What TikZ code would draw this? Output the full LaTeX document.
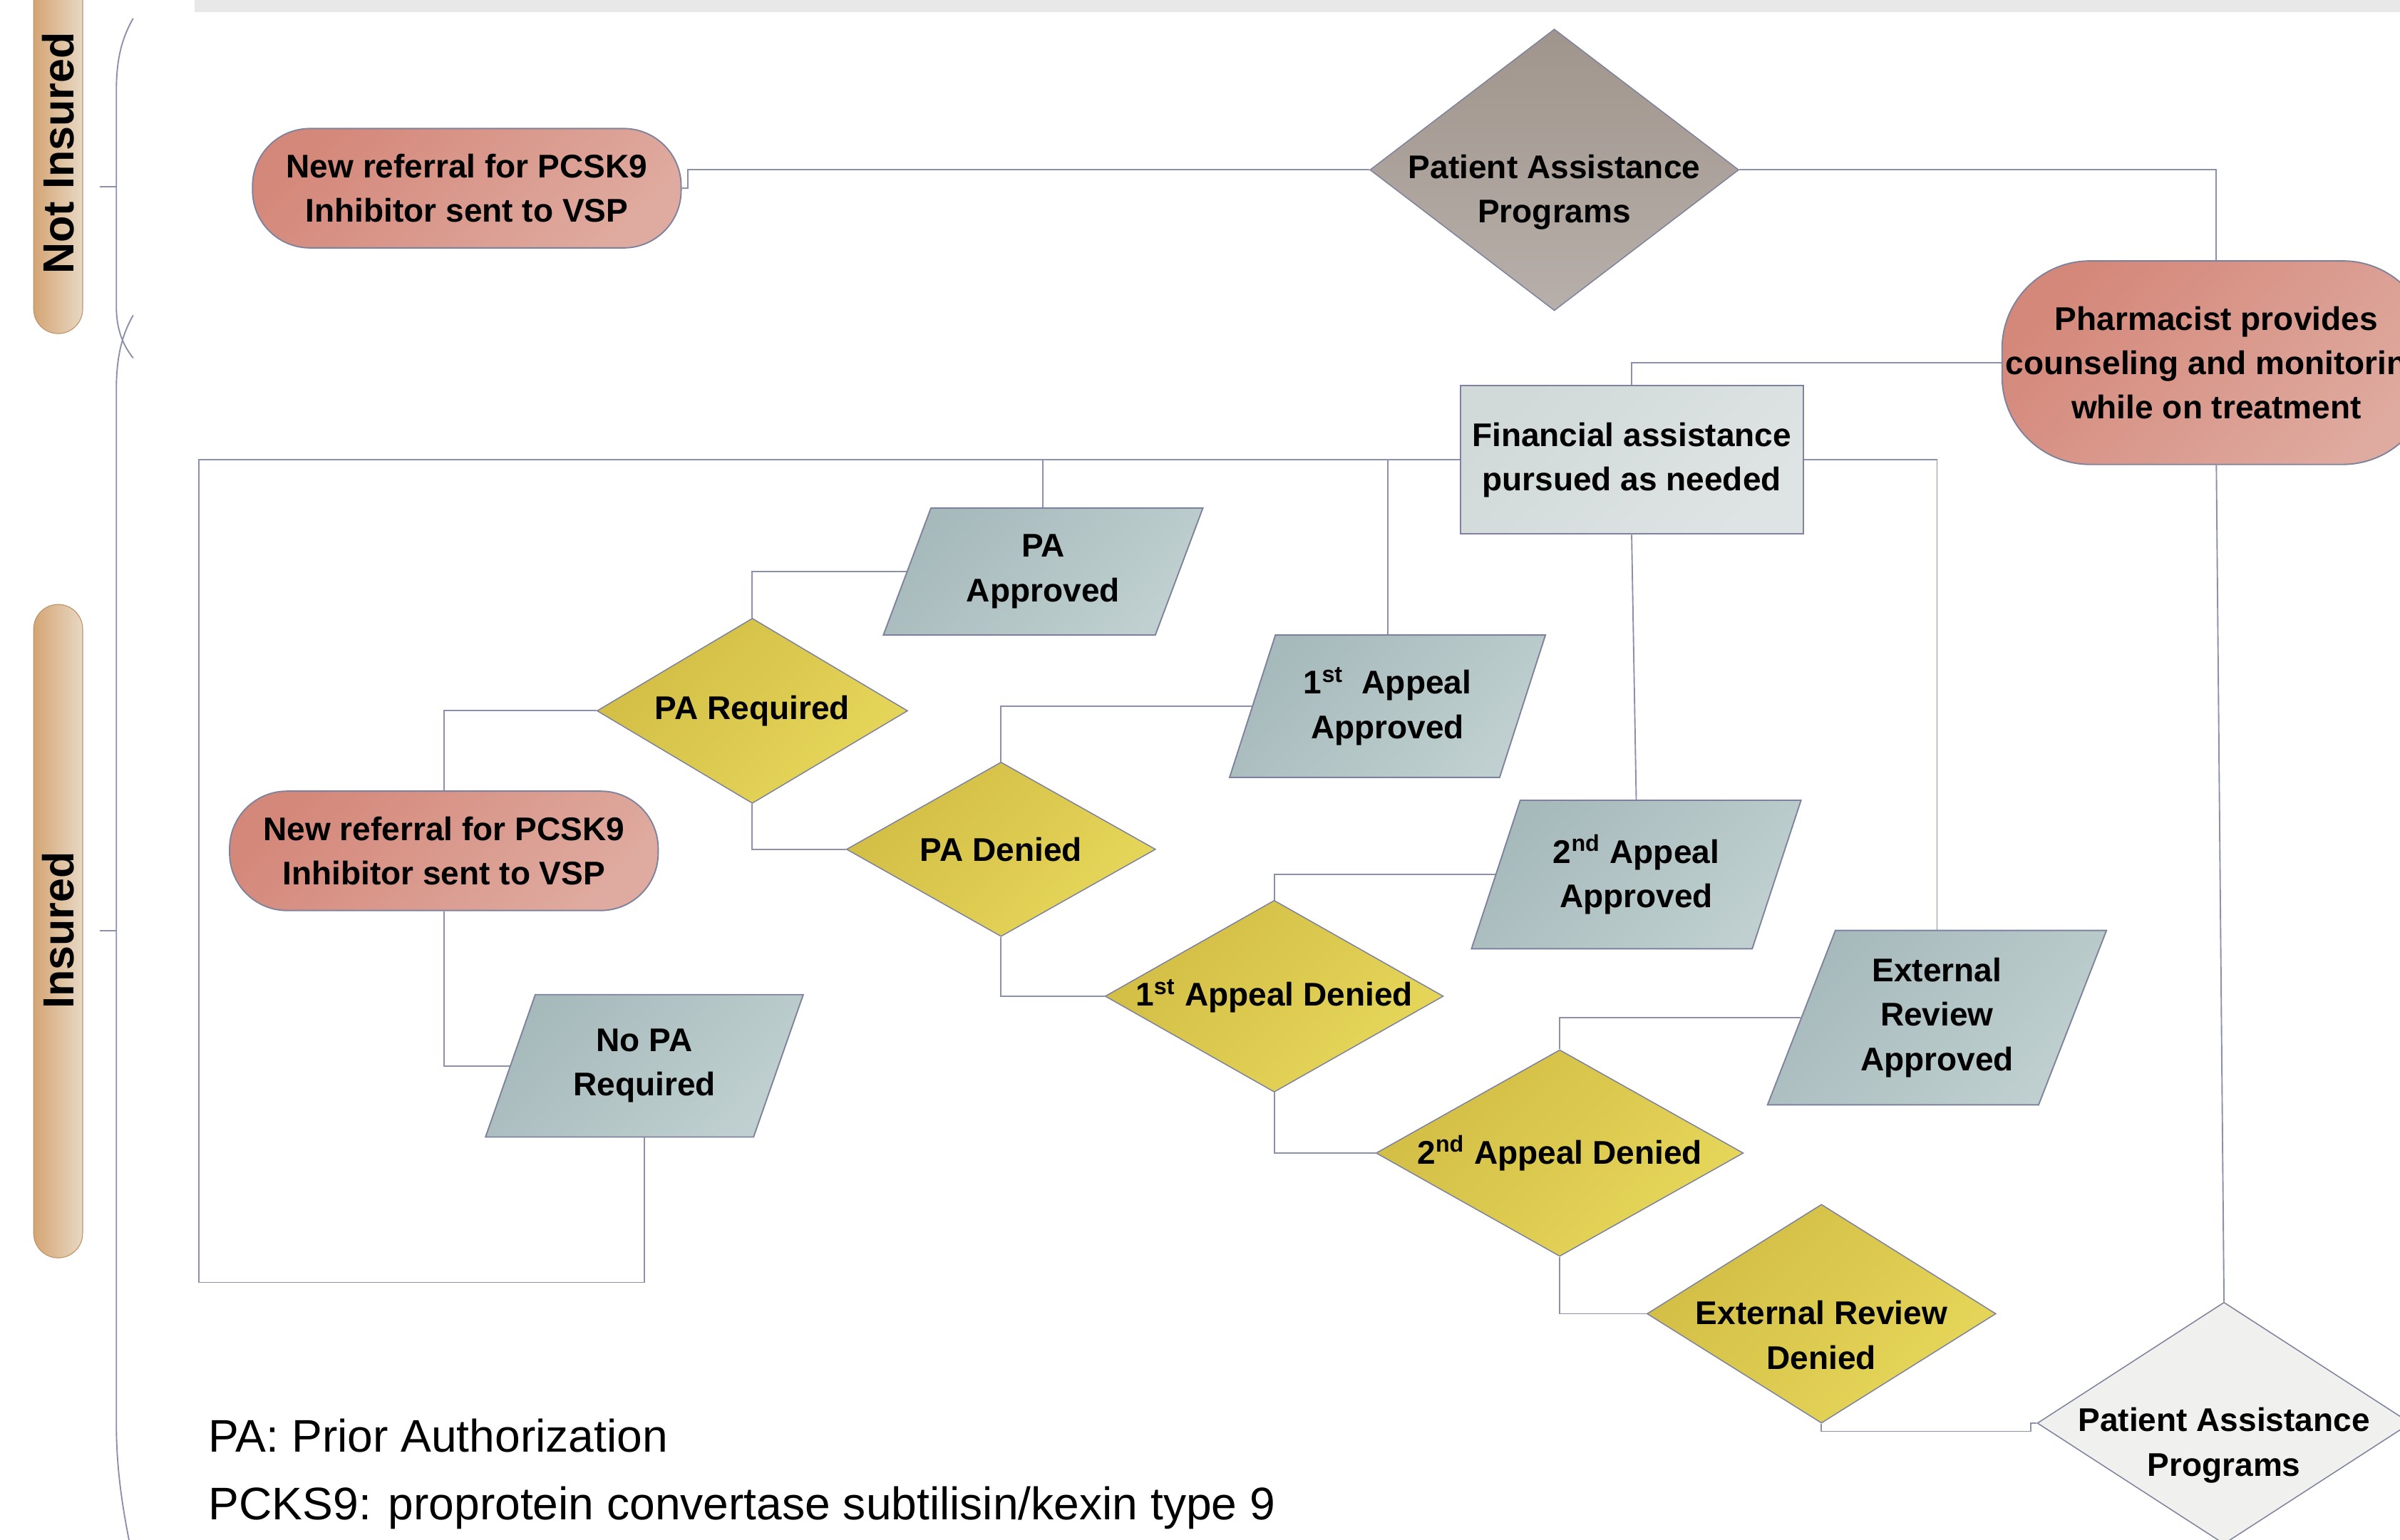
\documentclass[tikz,border=0pt]{standalone}
\usepackage{fontspec}
\setmainfont{Liberation Sans}
\usepackage{tikz}
\usetikzlibrary{shapes.geometric}
\definecolor{linec}{HTML}{8C90AB}
\definecolor{edgec}{HTML}{7E829C}
\definecolor{barc}{HTML}{E8E8E8}
\definecolor{salmon}{HTML}{D4887A}
\definecolor{salmonl}{HTML}{DFAA9F}
\definecolor{lane}{HTML}{D4A574}
\definecolor{lanel}{HTML}{E8D8C4}
\definecolor{gold}{HTML}{D2BD45}
\definecolor{goldl}{HTML}{E6D75A}
\definecolor{slate}{HTML}{A6B9BB}
\definecolor{slatel}{HTML}{C0D0D0}
\definecolor{mist}{HTML}{D1DAD9}
\definecolor{mistl}{HTML}{DEE4E3}
\definecolor{taupe}{HTML}{A0958C}
\definecolor{taupel}{HTML}{B7AFAA}
\definecolor{pale}{HTML}{F0F0EE}
\tikzset{
  link/.style={draw=linec, line width=0.5pt},
  lab/.style={font=\bfseries\fontsize{12.2}{16.5}\selectfont, align=center, text=black},
  term/.style={lab, draw=edgec, line width=0.5pt, top color=salmon, bottom color=salmonl, shading angle=45,
    minimum width=56mm, minimum height=15.6mm, rounded corners=7.5mm, inner sep=1pt},
  procbox/.style={lab, draw=edgec, line width=0.5pt, top color=mist, bottom color=mistl, shading angle=45,
    minimum width=44.8mm, minimum height=19.4mm, inner sep=1pt},
  dec/.style={lab, diamond, draw=edgec, line width=0.4pt, top color=gold, bottom color=goldl, shading angle=45,
    inner sep=0pt, shape aspect=1.75},
  io/.style={lab, trapezium, trapezium left angle=67, trapezium right angle=113, trapezium stretches=true,
    draw=edgec, line width=0.5pt, top color=slate, bottom color=slatel, shading angle=45, inner sep=1pt},
  lanebar/.style={draw=lane!90!black, line width=0.3pt, left color=lane, right color=lanel, rounded corners=3.2mm},
  lanetxt/.style={rotate=90, font=\bfseries\fontsize{16.2}{19}\selectfont},
  legend/.style={font=\fontsize{17}{25}\selectfont, inner sep=0pt, anchor=base west},
}

\begin{document}
\begin{tikzpicture}[x=0.2mm, y=-0.2mm]
  \useasboundingbox (0,0) rectangle (1568,1006);
  \clip (0,0) rectangle (1568,1006);

  % header strip
  \fill[barc] (127,0) rectangle (1568,8);

  % lanes
  \draw[lanebar] (22,-40) rectangle (54,218);
  \node[lanetxt] (notins) at (38,100) {Not Insured};
  \draw[lanebar] (22,395) rectangle (54,822);
  \node[lanetxt] (ins) at (38,608) {Insured};

  % braces
  \draw[link] (87,12) .. controls (79,26) and (76,40) .. (76,60) -- (76,200) .. controls (76,215) and (80,225) .. (87,234);
  \draw[link] (87,206) .. controls (79,220) and (76,235) .. (76,255) -- (76,930) .. controls (76,960) and (80,985) .. (85,1010);
  \draw[link] (65,122) -- (76,122);
  \draw[link] (65,608) -- (76,608);

  % not insured row
  \node[term] (ref1) at (305,123) {New referral for PCSK9\\Inhibitor sent to VSP};
  \node[dec, top color=taupe, bottom color=taupel, minimum width=48.2mm, minimum height=36.8mm,
    label={[lab, yshift=-2.9mm]center:Patient Assistance\\Programs}] (pap1) at (1015.5,111) {};
  \node[term, minimum height=26.6mm, rounded corners=11.5mm] (pharm) at (1448,237)
    {Pharmacist provides\\counseling and monitoring\\while on treatment};
  \node[procbox] (fin) at (1066,300.5) {Financial assistance\\pursued as needed};

  % insured flow
  \node[term] (ref2) at (290,556) {New referral for PCSK9\\Inhibitor sent to VSP};
  \node[dec, minimum width=40.6mm, minimum height=24.2mm] (par) at (491.5,464.5) {PA Required};
  \node[dec, minimum width=40.4mm, minimum height=22.8mm] (pad) at (654,555) {PA Denied};
  \node[dec, minimum width=44.2mm, minimum height=24.8mm] (a1d) at (832.5,651) {1\textsuperscript{st} Appeal Denied};
  \node[dec, minimum width=48mm, minimum height=27mm] (a2d) at (1019,753.5) {2\textsuperscript{nd} Appeal Denied};
  \node[dec, minimum width=45.6mm, minimum height=28.6mm,
    label={[lab, yshift=-2.8mm]center:External Review\\Denied}] (erd) at (1190,858.5) {};
  \node[dec, fill=pale, top color=pale, bottom color=pale, minimum width=48.8mm, minimum height=31.6mm,
    label={[lab, yshift=-2.9mm]center:Patient Assistance\\Programs}] (pap2) at (1453,930) {};

  \node[io, minimum width=41.8mm, minimum height=16.6mm] (paa) at (681.5,373.5) {PA\\Approved};
  \node[io, minimum width=41.6mm, minimum height=18.6mm] (npa) at (421,696.5) {No PA\\Required};
  \node[io, minimum width=41.4mm, minimum height=18.6mm] (a1a) at (906.5,461.5) {1\textsuperscript{st}\ \ Appeal\\Approved};
  \node[io, minimum width=43.2mm, minimum height=19.4mm] (a2a) at (1069,571.5) {2\textsuperscript{nd} Appeal\\Approved};
  \node[io, minimum width=44.6mm, minimum height=22.8mm] (era) at (1265.5,665) {External\\Review\\Approved};

  % connectors
  \draw[link] (ref1.east) -- ++(4,0) |- (pap1.west);
  \draw[link] (pap1.east) -| (pharm.north);
  \draw[link] (pharm.west) -| (fin.north);
  \draw[link] (pharm.south) -- (pap2.north);
  \coordinate (loopt) at (130,300.5);
  \coordinate (loopb) at (130,838);
  \draw[link] (fin.west) -- (loopt) -- (loopb) -| (npa.south);
  \draw[link] (paa.north) |- (fin.west);
  \draw[link] (a1a.north) |- (fin.west);
  \draw[link] (fin.east) -| (era.north);
  \draw[link] (fin.south) -- (a2a.north);
  \draw[link] (paa.west) -| (par.north);
  \draw[link] (par.west) -| (ref2.north);
  \draw[link] (par.south) |- (pad.west);
  \draw[link] (ref2.south) |- (npa.west);
  \draw[link] (pad.north) |- (a1a.west);
  \draw[link] (pad.south) |- (a1d.west);
  \draw[link] (a1d.north) |- (a2a.west);
  \draw[link] (a1d.south) |- (a2d.west);
  \draw[link] (a2d.north) |- (era.west);
  \draw[link] (a2d.south) |- (erd.west);
  \coordinate (jog) at ([xshift=-0.8mm]pap2.west);
  \draw[link] (erd.south) -- ++(0,5) -| (jog) -- (pap2.west);

  % legend
  \node[legend] (leg1) at (136,949) {PA: Prior Authorization};
  \node[legend] (leg2) at (136,993) {PCKS9: proprotein convertase subtilisin/kexin type 9};
\end{tikzpicture}
\end{document}
